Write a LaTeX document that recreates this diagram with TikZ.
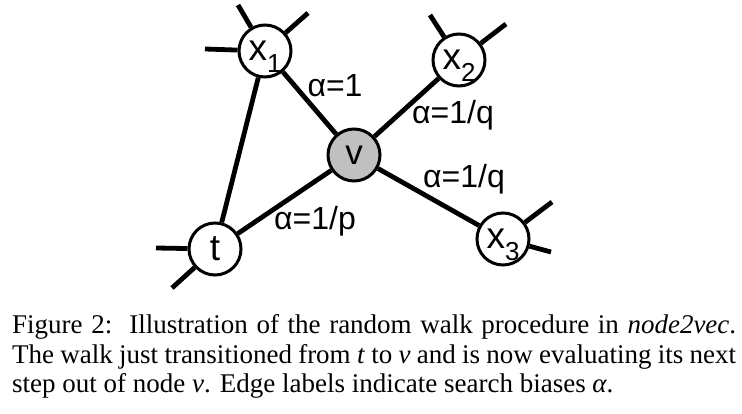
\documentclass[tikz,border=0pt]{standalone}
\usepackage{fontspec}
\setmainfont{Liberation Sans}
\newfontfamily\capfont{Liberation Serif}
\newcommand\subs[1]{\raisebox{-12pt}[0pt][0pt]{\fontsize{26}{26}\selectfont #1}}
\tikzset{
  vert/.style={circle, draw, line width=3pt, fill=white, minimum size=52pt, inner sep=0pt, font=\fontsize{37}{37}\selectfont},
  edge/.style={line width=4.8pt},
  lab/.style={anchor=base, inner sep=0pt, font=\fontsize{32}{32}\selectfont},
  captext/.style={anchor=base west, inner sep=0pt, font=\capfont\fontsize{27}{30}\selectfont}
}
\begin{document}
\begin{tikzpicture}[x=1pt,y=-1pt]
\useasboundingbox[fill=white] (0,0) rectangle (742,414);
% nodes
\node[vert] (x1) at (265,51) {x\subs{1}};
\node[vert] (x2) at (459,60) {x\subs{2}};
\node[vert, fill={rgb,255:red,192;green,192;blue,192}, font=\fontsize{35}{35}\selectfont] (v) at (354,155) {v};
\node[vert] (t) at (215,249) {t};
\node[vert] (x3) at (503,239) {x\subs{3}};
% stub ends
\coordinate (a1) at (238,5);
\coordinate (a2) at (308,13);
\coordinate (a3) at (205,49);
\coordinate (b1) at (430,15);
\coordinate (b2) at (506,24);
\coordinate (c1) at (156,248);
\coordinate (c2) at (172,288);
\coordinate (d1) at (552,202);
\coordinate (d2) at (551,252);
% edges
\draw[edge] (x1) -- (v);
\draw[edge] (x2) -- (v);
\draw[edge] (v) -- (x3);
\draw[edge] (v) -- (t);
\draw[edge] (x1) -- (t);
\draw[edge] (x1) -- (a1);
\draw[edge] (x1) -- (a2);
\draw[edge] (x1) -- (a3);
\draw[edge] (x2) -- (b1);
\draw[edge] (x2) -- (b2);
\draw[edge] (t) -- (c1);
\draw[edge] (t) -- (c2);
\draw[edge] (x3) -- (d1);
\draw[edge] (x3) -- (d2);
% labels
\node[lab] (l1) at (335,97) {α=1};
\node[lab] (l2) at (453,124) {α=1/q};
\node[lab] (l3) at (464,188) {α=1/q};
\node[lab] (l4) at (315,230) {α=1/p};
% caption
\node[captext] (c1t) at (12,334) {\makebox[724pt][s]{Figure 2:\ \ Illustration of the random walk procedure in \textit{node2vec}.}};
\node[captext] (c2t) at (12,363) {\makebox[724pt][s]{The walk just transitioned from \textit{t} to \textit{v} and is now evaluating its next}};
\node[captext] (c3t) at (12,392) {step out of node \textit{v}. Edge labels indicate search biases \textit{α}.};
\end{tikzpicture}
\end{document}
